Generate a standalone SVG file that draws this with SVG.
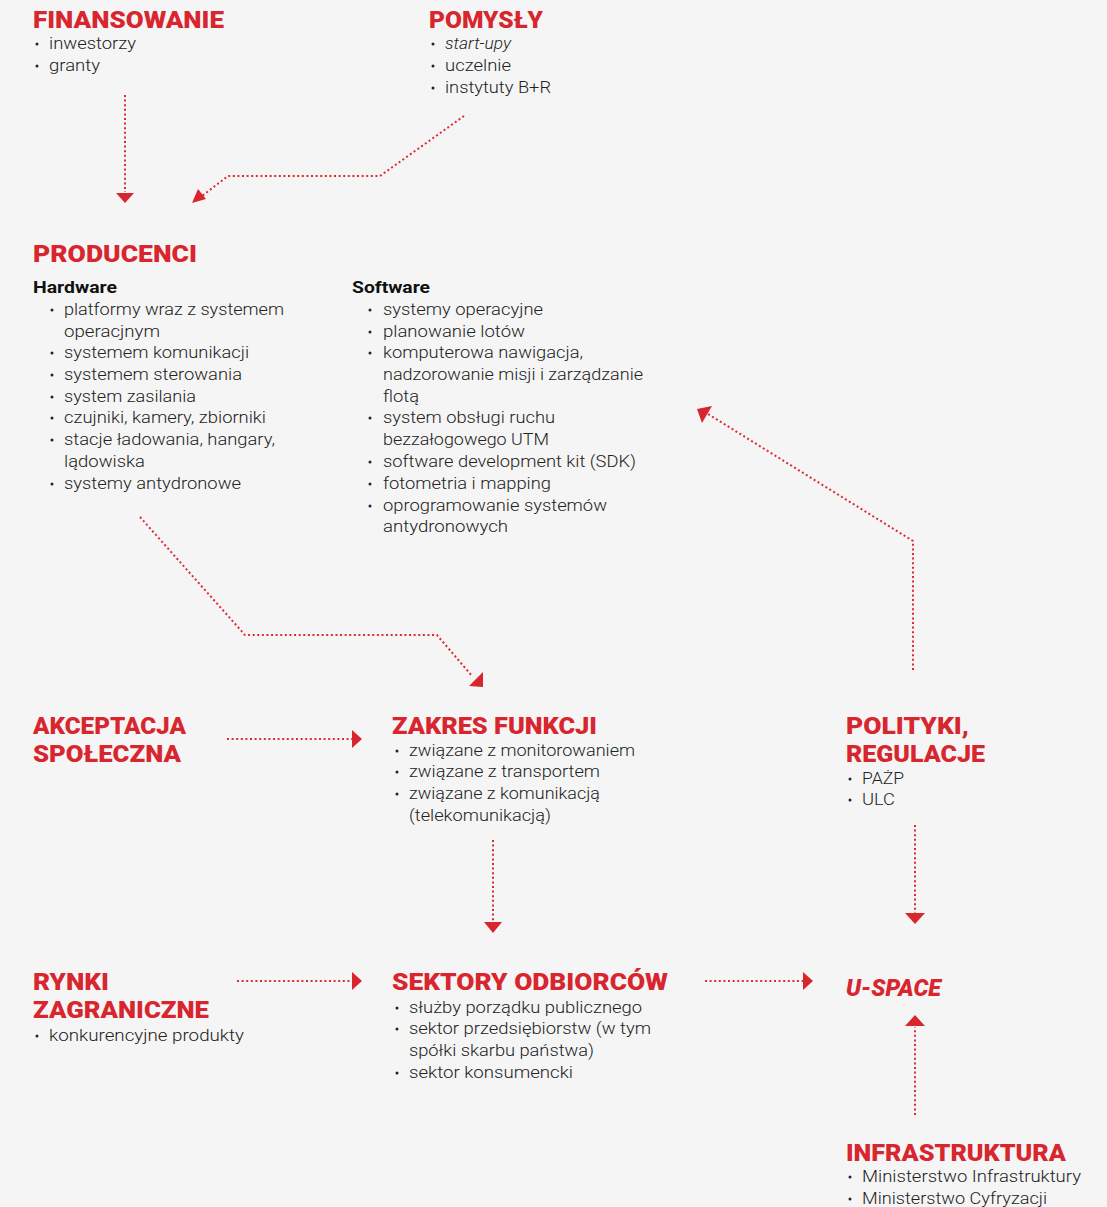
<svg xmlns="http://www.w3.org/2000/svg" width="1107" height="1207" viewBox="0 0 1107 1207">
<style>
.h{font-family:Roboto,"Liberation Sans",Arial,sans-serif;font-weight:900;font-size:23px;fill:#d8262f}
.sh{font-family:Roboto,"Liberation Sans",Arial,sans-serif;font-weight:bold;font-size:17px;fill:#111}
.t{font-family:Roboto,"Liberation Sans",sans-serif;font-weight:300;font-size:17px;fill:#222}
.b{fill:#222}
.c{fill:none;stroke:#dd2a33;stroke-width:2;stroke-dasharray:2 2.6}
.a{fill:#d8262f}
</style>
<rect width="1107" height="1207" fill="#f5f5f5"/>
<g id="connectors">
<path class="c" d="M125,95 V192"/>
<polygon class="a" points="116,193 134,193 125,203"/>
<path class="c" d="M464,116 L380,176 H228 L202,196"/>
<polygon class="a" points="192,203 198,189 206,199"/>
<path class="c" d="M140,517 L245,635 H437 L472,676"/>
<polygon class="a" points="483,687 469,686 483,672"/>
<path class="c" d="M913,670 V541 L708,414"/>
<polygon class="a" points="697,409 712,406 702,423"/>
<path class="c" d="M227,739 H352"/>
<polygon class="a" points="352,730 362,739 352,748"/>
<path class="c" d="M493,840 V922"/>
<polygon class="a" points="484,922 502,922 493,933"/>
<path class="c" d="M915,825 V913"/>
<polygon class="a" points="905,913 925,913 915,924"/>
<path class="c" d="M237,981 H352"/>
<polygon class="a" points="352,972 362,981 352,990"/>
<path class="c" d="M705,981 H803"/>
<polygon class="a" points="803,972 813,981 803,990"/>
<path class="c" d="M915,1115 V1027"/>
<polygon class="a" points="905,1026 925,1026 915,1015"/>
</g>
<g id="finansowanie">
<text class="h" x="33" y="28" textLength="191" lengthAdjust="spacingAndGlyphs">FINANSOWANIE</text>
<circle class="b" cx="37" cy="44" r="1.5"/><text class="t" x="49" y="49" textLength="87" lengthAdjust="spacingAndGlyphs">inwestorzy</text>
<circle class="b" cx="37" cy="66" r="1.5"/><text class="t" x="49" y="71" textLength="51" lengthAdjust="spacingAndGlyphs">granty</text>
</g>
<g id="pomysly">
<text class="h" x="429" y="28" textLength="114" lengthAdjust="spacingAndGlyphs">POMYSŁY</text>
<circle class="b" cx="433" cy="44" r="1.5"/><text class="t" x="445" y="49" font-style="italic" textLength="66" lengthAdjust="spacingAndGlyphs">start-upy</text>
<circle class="b" cx="433" cy="66" r="1.5"/><text class="t" x="445" y="71" textLength="66" lengthAdjust="spacingAndGlyphs">uczelnie</text>
<circle class="b" cx="433" cy="88" r="1.5"/><text class="t" x="445" y="93" textLength="106" lengthAdjust="spacingAndGlyphs">instytuty B+R</text>
</g>
<g id="producenci">
<text class="h" x="33" y="262" textLength="164" lengthAdjust="spacingAndGlyphs">PRODUCENCI</text>
<text class="sh" x="33" y="293" textLength="84" lengthAdjust="spacingAndGlyphs">Hardware</text>
<circle class="b" cx="52" cy="310" r="1.5"/><text class="t" x="64" y="315" textLength="220" lengthAdjust="spacingAndGlyphs">platformy wraz z systemem</text>
<text class="t" x="64" y="337" textLength="96" lengthAdjust="spacingAndGlyphs">operacjnym</text>
<circle class="b" cx="52" cy="353" r="1.5"/><text class="t" x="64" y="358" textLength="185" lengthAdjust="spacingAndGlyphs">systemem komunikacji</text>
<circle class="b" cx="52" cy="375" r="1.5"/><text class="t" x="64" y="380" textLength="178" lengthAdjust="spacingAndGlyphs">systemem sterowania</text>
<circle class="b" cx="52" cy="397" r="1.5"/><text class="t" x="64" y="402" textLength="132" lengthAdjust="spacingAndGlyphs">system zasilania</text>
<circle class="b" cx="52" cy="418" r="1.5"/><text class="t" x="64" y="423" textLength="202" lengthAdjust="spacingAndGlyphs">czujniki, kamery, zbiorniki</text>
<circle class="b" cx="52" cy="440" r="1.5"/><text class="t" x="64" y="445" textLength="211" lengthAdjust="spacingAndGlyphs">stacje ładowania, hangary,</text>
<text class="t" x="64" y="467" textLength="81" lengthAdjust="spacingAndGlyphs">lądowiska</text>
<circle class="b" cx="52" cy="484" r="1.5"/><text class="t" x="64" y="489" textLength="177" lengthAdjust="spacingAndGlyphs">systemy antydronowe</text>
<text class="sh" x="352" y="293" textLength="78" lengthAdjust="spacingAndGlyphs">Software</text>
<circle class="b" cx="370" cy="310" r="1.5"/><text class="t" x="383" y="315" textLength="160" lengthAdjust="spacingAndGlyphs">systemy operacyjne</text>
<circle class="b" cx="370" cy="332" r="1.5"/><text class="t" x="383" y="337" textLength="142" lengthAdjust="spacingAndGlyphs">planowanie lotów</text>
<circle class="b" cx="370" cy="353" r="1.5"/><text class="t" x="383" y="358" textLength="200" lengthAdjust="spacingAndGlyphs">komputerowa nawigacja,</text>
<text class="t" x="383" y="380" textLength="260" lengthAdjust="spacingAndGlyphs">nadzorowanie misji i zarządzanie</text>
<text class="t" x="383" y="402" textLength="36" lengthAdjust="spacingAndGlyphs">flotą</text>
<circle class="b" cx="370" cy="418" r="1.5"/><text class="t" x="383" y="423" textLength="172" lengthAdjust="spacingAndGlyphs">system obsługi ruchu</text>
<text class="t" x="383" y="445" textLength="166" lengthAdjust="spacingAndGlyphs">bezzałogowego UTM</text>
<circle class="b" cx="370" cy="462" r="1.5"/><text class="t" x="383" y="467" textLength="253" lengthAdjust="spacingAndGlyphs">software development kit (SDK)</text>
<circle class="b" cx="370" cy="484" r="1.5"/><text class="t" x="383" y="489" textLength="168" lengthAdjust="spacingAndGlyphs">fotometria i mapping</text>
<circle class="b" cx="370" cy="506" r="1.5"/><text class="t" x="383" y="511" textLength="224" lengthAdjust="spacingAndGlyphs">oprogramowanie systemów</text>
<text class="t" x="383" y="532" textLength="125" lengthAdjust="spacingAndGlyphs">antydronowych</text>
</g>
<g id="akceptacja">
<text class="h" x="33" y="734" textLength="153" lengthAdjust="spacingAndGlyphs">AKCEPTACJA</text>
<text class="h" x="33" y="762" textLength="148" lengthAdjust="spacingAndGlyphs">SPOŁECZNA</text>
</g>
<g id="zakres">
<text class="h" x="392" y="734" textLength="205" lengthAdjust="spacingAndGlyphs">ZAKRES FUNKCJI</text>
<circle class="b" cx="397" cy="751" r="1.5"/><text class="t" x="409" y="756" textLength="226" lengthAdjust="spacingAndGlyphs">związane z monitorowaniem</text>
<circle class="b" cx="397" cy="772" r="1.5"/><text class="t" x="409" y="777" textLength="191" lengthAdjust="spacingAndGlyphs">związane z transportem</text>
<circle class="b" cx="397" cy="794" r="1.5"/><text class="t" x="409" y="799" textLength="191" lengthAdjust="spacingAndGlyphs">związane z komunikacją</text>
<text class="t" x="409" y="821" textLength="142" lengthAdjust="spacingAndGlyphs">(telekomunikacją)</text>
</g>
<g id="polityki">
<text class="h" x="846" y="734" textLength="123" lengthAdjust="spacingAndGlyphs">POLITYKI,</text>
<text class="h" x="846" y="762" textLength="139" lengthAdjust="spacingAndGlyphs">REGULACJE</text>
<circle class="b" cx="850" cy="779" r="1.5"/><text class="t" x="862" y="784" textLength="42" lengthAdjust="spacingAndGlyphs">PAŻP</text>
<circle class="b" cx="850" cy="800" r="1.5"/><text class="t" x="862" y="805" textLength="33" lengthAdjust="spacingAndGlyphs">ULC</text>
</g>
<g id="rynki">
<text class="h" x="33" y="990" textLength="76" lengthAdjust="spacingAndGlyphs">RYNKI</text>
<text class="h" x="33" y="1018" textLength="176" lengthAdjust="spacingAndGlyphs">ZAGRANICZNE</text>
<circle class="b" cx="37" cy="1036" r="1.5"/><text class="t" x="49" y="1041" textLength="195" lengthAdjust="spacingAndGlyphs">konkurencyjne produkty</text>
</g>
<g id="sektory">
<text class="h" x="392" y="990" textLength="276" lengthAdjust="spacingAndGlyphs">SEKTORY ODBIORCÓW</text>
<circle class="b" cx="397" cy="1008" r="1.5"/><text class="t" x="409" y="1013" textLength="233" lengthAdjust="spacingAndGlyphs">służby porządku publicznego</text>
<circle class="b" cx="397" cy="1029" r="1.5"/><text class="t" x="409" y="1034" textLength="242" lengthAdjust="spacingAndGlyphs">sektor przedsiębiorstw (w tym</text>
<text class="t" x="409" y="1056" textLength="185" lengthAdjust="spacingAndGlyphs">spółki skarbu państwa)</text>
<circle class="b" cx="397" cy="1073" r="1.5"/><text class="t" x="409" y="1078" textLength="164" lengthAdjust="spacingAndGlyphs">sektor konsumencki</text>
</g>
<g id="uspace">
<text class="h" x="846" y="996" font-style="italic" textLength="95" lengthAdjust="spacingAndGlyphs">U-SPACE</text>
</g>
<g id="infrastruktura">
<text class="h" x="846" y="1161" textLength="220" lengthAdjust="spacingAndGlyphs">INFRASTRUKTURA</text>
<circle class="b" cx="850" cy="1177" r="1.5"/><text class="t" x="862" y="1182" textLength="219" lengthAdjust="spacingAndGlyphs">Ministerstwo Infrastruktury</text>
<circle class="b" cx="850" cy="1199" r="1.5"/><text class="t" x="862" y="1204" textLength="185" lengthAdjust="spacingAndGlyphs">Ministerstwo Cyfryzacji</text>
</g>
</svg>
